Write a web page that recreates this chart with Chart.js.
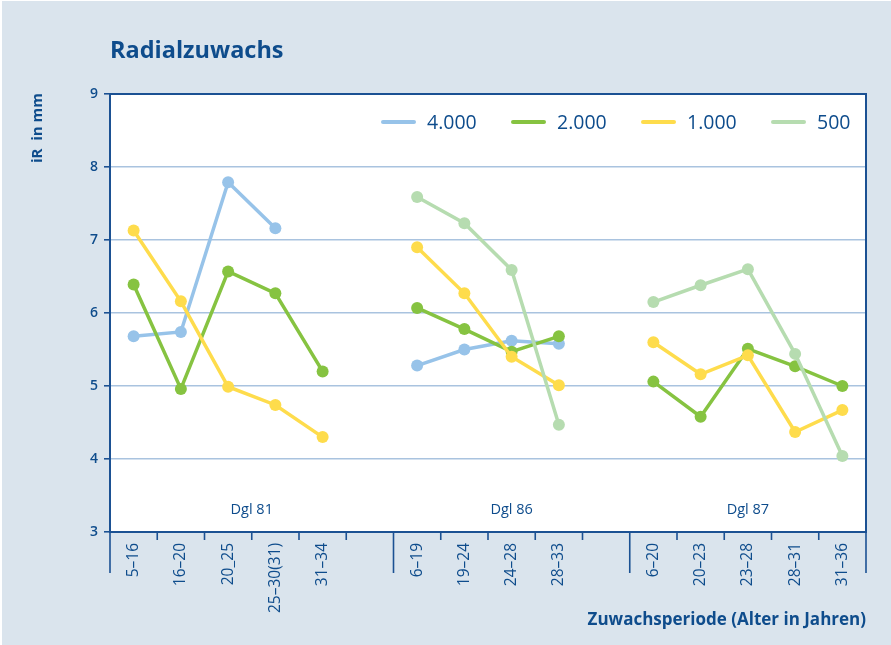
<!DOCTYPE html>
<html>
<head>
<meta charset="utf-8">
<script src="https://cdn.jsdelivr.net/npm/chart.js@4/dist/chart.umd.min.js"></script>
<style>
  html, body { margin: 0; padding: 0; background: #ffffff; }
  #wrap { width: 891px; height: 645px; position: relative; }
</style>
</head>
<body>
<div id="wrap"><canvas id="c" width="891" height="645"></canvas></div>
<script>
// ---- data ----
const categories = ['5–16', '16–20', '20_25', '25–30(31)', '31–34', '',
                    '6–19', '19–24', '24–28', '28–33', '',
                    '6–20', '20–23', '23–28', '28–31', '31–36'];
const groupNames = ['Dgl 81', 'Dgl 86', 'Dgl 87'];
const groupStarts = [0, 6, 11];
const groupEnds = [6, 11, 16];
const seriesNames = ['4.000', '2.000', '1.000', '500'];
const s4000 = [5.68, 5.74, 7.79, 7.16, null, null,
               5.28, 5.50, 5.62, 5.58, null,
               null, null, null, null, null];
const s2000 = [6.39, 4.96, 6.57, 6.27, 5.20, null,
               6.07, 5.78, 5.47, 5.68, null,
               5.06, 4.58, 5.51, 5.27, 5.00];
const s1000 = [7.13, 6.16, 4.99, 4.74, 4.30, null,
               6.90, 6.27, 5.40, 5.01, null,
               5.60, 5.16, 5.42, 4.37, 4.67];
const s500 = [null, null, null, null, null, null,
              7.59, 7.23, 6.59, 4.47, null,
              6.15, 6.38, 6.60, 5.44, 4.04];
const yTicks = [3, 4, 5, 6, 7, 8, 9];

const colors = ['#97c3e9', '#86c341', '#fedc4c', '#b6dcb0'];
const TEXT = '#0e4c8c';
const FRAME = '#1b5193';
const FONT = "'Open Sans', 'Noto Sans', sans-serif";

const seriesData = [s4000, s2000, s1000, s500];

const datasets = seriesData.map((d, i) => ({
  label: seriesNames[i],
  data: d,
  borderColor: colors[i],
  backgroundColor: colors[i],
  pointBackgroundColor: colors[i],
  pointBorderWidth: 0,
  pointRadius: 6,
  borderWidth: 3.5,
  spanGaps: false,
  order: 4 - i,
  tension: 0
}));

const deco = {
  id: 'deco',
  beforeDraw(chart) {
    const ctx = chart.ctx;
    ctx.save();
    ctx.fillStyle = '#ffffff';
    ctx.fillRect(0, 0, chart.width, chart.height);
    ctx.fillStyle = '#dae4ed';
    ctx.fillRect(2, 1, chart.width - 2, chart.height - 1);
    const a = chart.chartArea;
    ctx.fillStyle = '#ffffff';
    ctx.fillRect(a.left, a.top, a.right - a.left, a.bottom - a.top);
    ctx.restore();
  },
  afterDraw(chart) {
    const ctx = chart.ctx;
    const a = chart.chartArea;
    const xs = chart.scales.x;
    const half = (xs.getPixelForValue(1) - xs.getPixelForValue(0)) / 2;
    ctx.save();
    // frame
    ctx.strokeStyle = FRAME;
    ctx.lineWidth = 2;
    ctx.strokeRect(a.left, a.top, a.right - a.left, a.bottom - a.top);
    // x ticks
    ctx.lineWidth = 1.6;
    for (let i = 0; i <= categories.length; i++) {
      const x = i < categories.length ? xs.getPixelForValue(i) - half : xs.getPixelForValue(i - 1) + half;
      const long = groupStarts.includes(i) || i === categories.length;
      ctx.beginPath();
      ctx.moveTo(x, a.bottom);
      ctx.lineTo(x, a.bottom + (long ? 41 : 8));
      ctx.stroke();
    }
    // group labels
    ctx.fillStyle = TEXT;
    ctx.font = '14.5px ' + FONT;
    ctx.textAlign = 'center';
    ctx.textBaseline = 'middle';
    groupNames.forEach((g, k) => {
      const x1 = xs.getPixelForValue(groupStarts[k]) - half;
      const x2 = xs.getPixelForValue(groupEnds[k] - 1) + half;
      ctx.fillText(g, (x1 + x2) / 2, a.bottom - 22);
    });
    // title
    ctx.font = 'bold 23.5px ' + FONT;
    ctx.textAlign = 'left';
    ctx.textBaseline = 'alphabetic';
    ctx.fillText('Radialzuwachs', a.left, 58);
    // y title
    ctx.save();
    ctx.translate(38, 128);
    ctx.rotate(-Math.PI / 2);
    ctx.font = 'bold 15px ' + FONT;
    ctx.textAlign = 'center';
    ctx.textBaseline = 'middle';
    ctx.fillText('iR  in mm', 0, 0);
    ctx.restore();
    // x title
    ctx.font = 'bold 17px ' + FONT;
    ctx.textAlign = 'right';
    ctx.textBaseline = 'middle';
    ctx.fillText('Zuwachsperiode (Alter in Jahren)', a.right, 620);
    // legend
    ctx.font = '19.5px ' + FONT;
    ctx.textAlign = 'left';
    ctx.textBaseline = 'middle';
    ctx.lineCap = 'round';
    seriesNames.forEach((n, i) => {
      const x0 = 382 + i * 130;
      ctx.strokeStyle = colors[i];
      ctx.lineWidth = 4;
      ctx.beginPath();
      ctx.moveTo(x0 + 1, 122);
      ctx.lineTo(x0 + 32, 122);
      ctx.stroke();
      ctx.fillStyle = TEXT;
      ctx.fillText(n, x0 + 45, 123);
    });
    ctx.restore();
  }
};

new Chart(document.getElementById('c'), {
  type: 'line',
  data: { labels: categories, datasets },
  options: {
    responsive: false,
    animation: false,
    events: [],
    layout: { padding: { top: 94, right: 25, left: 0, bottom: 0 } },
    plugins: { legend: { display: false }, tooltip: { enabled: false }, title: { display: false } },
    scales: {
      x: {
        type: 'category',
        offset: true,
        grid: { display: false, drawTicks: false },
        border: { display: false },
        ticks: {
          autoSkip: false, maxRotation: 90, minRotation: 90,
          color: TEXT, font: { family: FONT, size: 15.5 }, padding: 11
        },
        afterFit(s) { s.height = 113; }
      },
      y: {
        min: 3, max: 9,
        afterBuildTicks(s) { s.ticks = yTicks.map(v => ({ value: v })); },
        grid: { color: '#a9c3df', lineWidth: 1.6, tickColor: FRAME, tickLength: 6, drawTicks: true },
        border: { display: false },
        ticks: { color: TEXT, font: { family: FONT, size: 14, weight: '600' }, padding: 6 },
        afterFit(s) { s.width = 110; }
      }
    }
  },
  plugins: [deco]
});
</script>
</body>
</html>
